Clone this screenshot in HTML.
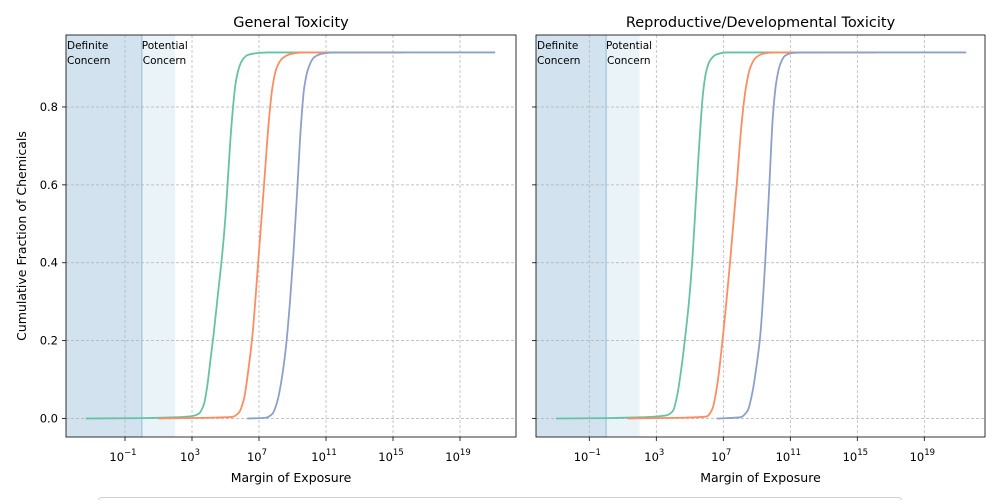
<!DOCTYPE html>
<html><head><meta charset="utf-8"><style>
body{margin:0;background:#fff;font-family:"DejaVu Sans","Liberation Sans",sans-serif;}
svg text{font-family:"DejaVu Sans","Liberation Sans",sans-serif;}
</style></head><body>
<svg id="chart" width="1000" height="500" xmlns="http://www.w3.org/2000/svg"></svg>
<script>
const titles = ["General Toxicity", "Reproductive/Developmental Toxicity"];
const yTicks = [0, 0.2, 0.4, 0.6, 0.8];
const xTickExps = [-1, 3, 7, 11, 15, 19];
const seriesNames = ["series-1", "series-2", "series-3"];
const seriesColors = ["#66c2a5", "#fc8d62", "#8da0cb"];
// [log10 MOE, cumulative fraction]
const gtGreen = [[-3.35,0],[0,0.001],[2,0.003],[3,0.006],[3.4,0.012],[3.7,0.035],[3.9,0.08],[4.1,0.15],[4.3,0.22],[4.55,0.32],[4.8,0.42],[5.0,0.52],[5.15,0.62],[5.3,0.72],[5.45,0.8],[5.6,0.86],[5.8,0.9],[6.0,0.92],[6.3,0.933],[6.8,0.938],[7.5,0.94],[13,0.94]];
const gtOrange = [[1,0],[4,0.002],[5.4,0.004],[5.8,0.015],[6.1,0.05],[6.35,0.12],[6.6,0.21],[6.95,0.4],[7.3,0.6],[7.6,0.77],[7.8,0.85],[8.05,0.9],[8.4,0.925],[8.9,0.936],[9.6,0.94],[15.7,0.94]];
const gtBlue = [[6.3,0],[7.4,0.002],[7.8,0.012],[8.1,0.045],[8.35,0.1],[8.6,0.18],[8.85,0.3],[9.05,0.42],[9.3,0.6],[9.5,0.75],[9.7,0.85],[9.95,0.9],[10.3,0.928],[10.8,0.937],[11.5,0.94],[21.1,0.94]];
const rdGreen = [[-3.0,0],[0,0.001],[2,0.003],[3.6,0.008],[4.0,0.02],[4.25,0.06],[4.5,0.13],[4.7,0.2],[4.95,0.3],[5.17,0.42],[5.35,0.55],[5.5,0.66],[5.65,0.76],[5.8,0.84],[6.0,0.895],[6.25,0.922],[6.6,0.935],[7.2,0.94],[13,0.94]];
const rdOrange = [[1.3,0],[4.5,0.002],[6.0,0.005],[6.35,0.025],[6.65,0.09],[6.95,0.2],[7.4,0.4],[7.8,0.6],[8.1,0.76],[8.35,0.85],[8.6,0.9],[8.95,0.927],[9.4,0.937],[10,0.94],[16,0.94]];
const rdBlue = [[6.6,0],[8.0,0.003],[8.45,0.02],[8.75,0.07],[9.0,0.14],[9.2,0.21],[9.5,0.4],[9.75,0.6],[9.95,0.77],[10.15,0.86],[10.4,0.91],[10.7,0.932],[11.2,0.939],[12,0.94],[21.5,0.94]];
const panelSeries = [[gtGreen, gtOrange, gtBlue],[rdGreen, rdOrange, rdBlue]];
const definiteMax = 0, potentialMax = 2;

const NS = "http://www.w3.org/2000/svg";
const svg = document.getElementById("chart");
function mk(tag, attrs, parent){const e=document.createElementNS(NS,tag);for(const k in attrs)e.setAttribute(k,attrs[k]);(parent||svg).appendChild(e);return e;}
// monotone cubic path through pixel points
function monoPath(pts){
  const n=pts.length, dx=[], dy=[], m=[], t=new Array(n);
  for(let i=0;i<n-1;i++){dx[i]=pts[i+1][0]-pts[i][0];dy[i]=pts[i+1][1]-pts[i][1];m[i]=dy[i]/dx[i];}
  t[0]=m[0];t[n-1]=m[n-2];
  for(let i=1;i<n-1;i++){t[i]=(m[i-1]*m[i]<=0)?0:(3*(dx[i-1]+dx[i]))/((2*dx[i]+dx[i-1])/m[i-1]+(dx[i]+2*dx[i-1])/m[i]);}
  let d="M"+pts[0][0].toFixed(2)+","+pts[0][1].toFixed(2);
  for(let i=0;i<n-1;i++){
    const h=dx[i]/3;
    d+=" C"+(pts[i][0]+h).toFixed(2)+","+(pts[i][1]+t[i]*h).toFixed(2)+" "+(pts[i+1][0]-h).toFixed(2)+","+(pts[i+1][1]-t[i+1]*h).toFixed(2)+" "+pts[i+1][0].toFixed(2)+","+pts[i+1][1].toFixed(2);
  }
  return d;
}
const panels = [{x0:66,x1:516,ref:125},{x0:536,x1:985,ref:589.3}];
const yTop=35, yBot=437;
const ppd=16.75;
function yS(v){return 418.5 - v*389.4;}
panels.forEach((p,i)=>{
  const xS = l => p.ref + (l+1)*ppd;
  const g = mk("g",{});
  
  
  const d = mk("rect",{x:p.x0,y:yTop,width:xS(definiteMax)-p.x0,height:yBot-yTop,fill:"#d2e3ef"},g);
  
  
  const pc = mk("rect",{x:xS(definiteMax),y:yTop,width:xS(potentialMax)-xS(definiteMax),height:yBot-yTop,fill:"#eaf3f8"},g);
  
  
  mk("line",{x1:xS(definiteMax),x2:xS(definiteMax),y1:yTop,y2:yBot,stroke:"#a9cbe3","stroke-width":1.5},g);
  yTicks.forEach(v=>{
    mk("line",{x1:p.x0,x2:p.x1,y1:yS(v),y2:yS(v),stroke:"#b0b0b0","stroke-width":0.7,"stroke-dasharray":"3,2"},g);
    mk("line",{x1:p.x0-4,x2:p.x0,y1:yS(v),y2:yS(v),stroke:"#000","stroke-width":0.8},g);
    if(i===0){const t=mk("text",{x:p.x0-8,y:yS(v)+4,"text-anchor":"end","font-size":11.5},g);t.textContent=v.toFixed(1);
      }
  });
  xTickExps.forEach(e=>{
    const x=xS(e);
    mk("line",{x1:x,x2:x,y1:yTop,y2:yBot,stroke:"#b0b0b0","stroke-width":0.7,"stroke-dasharray":"3,2"},g);
    mk("line",{x1:x,x2:x,y1:yBot,y2:yBot+4,stroke:"#000","stroke-width":0.8},g);
    const t=mk("text",{x:x-2,y:yBot+24,"text-anchor":"middle","font-size":11.5},g);
    t.textContent="10";
    const s=mk("tspan",{dy:-6,"font-size":8.5},t);s.textContent=(e<0?"\u2212"+(-e):""+e);
    
  });
  panelSeries[i].forEach((ser,k)=>{
    const pts = ser.map(pt=>[xS(pt[0]), yS(pt[1])]);
    const path = mk("path",{d:monoPath(pts),fill:"none",stroke:seriesColors[k],"stroke-width":1.8,"stroke-linejoin":"round"},g);
    
    
  });
  mk("rect",{x:p.x0,y:yTop,width:p.x1-p.x0,height:yBot-yTop,fill:"none",stroke:"#000","stroke-width":0.8},g);
  const l1=mk("text",{x:p.x0+1,y:49,"font-size":10.5},g);l1.textContent="Definite";
  const l2=mk("text",{x:p.x0+1,y:64,"font-size":10.5},g);l2.textContent="Concern";
  const l3=mk("text",{x:xS(definiteMax)+0,y:49,"font-size":10.5},g);l3.textContent="Potential";
  const l4=mk("text",{x:xS(definiteMax)+1,y:64,"font-size":10.5},g);l4.textContent="Concern";
  const tt=mk("text",{x:(p.x0+p.x1)/2,y:27,"text-anchor":"middle","font-size":14.5},g);tt.textContent=titles[i];
  
  const xl=mk("text",{x:(p.x0+p.x1)/2,y:482,"text-anchor":"middle","font-size":12.5},g);xl.textContent="Margin of Exposure";
  
});
const yl=mk("text",{x:26,y:236,"text-anchor":"middle","font-size":12.5,transform:"rotate(-90 26 236)"});
yl.textContent="Cumulative Fraction of Chemicals";


const lg=mk("rect",{x:98.5,y:497.5,width:803,height:20,rx:3,fill:"#fff",stroke:"#d0d0d0","stroke-width":1});


</script>
</body></html>
